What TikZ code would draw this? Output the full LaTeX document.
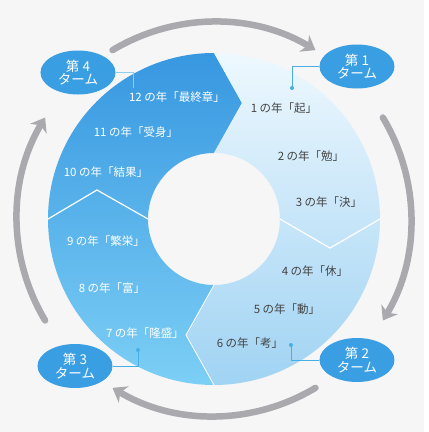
\documentclass[tikz,border=0pt]{standalone}
\usepackage{fontspec}
\setmainfont{Noto Sans CJK JP}
\usetikzlibrary{shapes.geometric}
\usetikzlibrary{arrows.meta}

\definecolor{bggray}{HTML}{F6F6F6}
\definecolor{arrowgray}{HTML}{A9A9AE}
\definecolor{turnblue}{HTML}{3A9EE3}
\definecolor{leaderblue}{HTML}{4AAEE6}
\definecolor{leaderpale}{HTML}{8CCFF3}
\definecolor{labelgray}{HTML}{444444}
\definecolor{darktop}{HTML}{3797E0}
\definecolor{darkmid}{HTML}{44B2EB}
\definecolor{darkbot}{HTML}{7CCFF5}
\definecolor{palettop}{HTML}{EEF8FE}
\definecolor{palemid}{HTML}{CCE8FA}
\definecolor{palebot}{HTML}{A0D3F3}

\begin{document}
\begin{tikzpicture}[x=1pt, y=1pt,
    turnarrow/.style={line width=6.5pt, draw=arrowgray, line cap=round,
        -{Stealth[length=13pt, width=19pt, inset=4pt]}},
    turn/.style={ellipse, fill=turnblue, text=white, minimum width=75pt,
        minimum height=44pt, inner sep=0pt, align=center,
        font=\fontsize{13.5}{13.5}\selectfont},
    leader/.style={draw=leaderblue, line width=0.8pt},
    darklabel/.style={text=labelgray, font=\fontsize{11.5}{12}\selectfont},
    lightlabel/.style={darklabel, text=white}]
    \useasboundingbox (-214,-213) rectangle (215,219);
    % Background
    \fill[bggray] (-214,-213) rectangle (210,219);
    \fill[white] (210,-213) rectangle (215,219);

    % Left half of the ring (turns 3 and 4)
    \shade[top color=darktop, middle color=darkmid, bottom color=darkbot]
        (90:166) arc[start angle=90, end angle=270, radius=166]
        -- (-28,-116) -- (270:66) arc[start angle=270, end angle=90, radius=66]
        -- (28,116) -- cycle;
    % Right half of the ring (turns 1 and 2)
    \shade[top color=palettop, middle color=palemid, bottom color=palebot]
        (90:166) arc[start angle=90, end angle=-90, radius=166]
        -- (-28,-116) -- (270:66) arc[start angle=-90, end angle=90, radius=66]
        -- (28,116) -- cycle;
    % White dividers
    \draw[white, line width=1.2pt] (-166,0) -- (-117,29) -- (-66,0);
    \draw[white, line width=1.2pt] (66,0) -- (116,-29) -- (166,0);
    \draw[white, line width=0.8pt] (0,-166) -- (-28,-116) -- (0,-66);

    % Gray arrows round the ring
    \foreach \a in {90,0,-90,-180}
        \draw[turnarrow] (\a+31:197) arc[start angle=\a+31, end angle=\a-31, radius=197];

    % Year labels
    \node[darklabel] (y1) at (70,111) {1 の年「起」};
    \node[darklabel] (y2) at (97,63) {2 の年「勉」};
    \node[darklabel] (y3) at (115,17) {3 の年「決」};
    \node[darklabel] (y4) at (101,-52) {4 の年「休」};
    \node[darklabel] (y5) at (73,-90) {5 の年「動」};
    \node[darklabel] (y6) at (36,-124) {6 の年「考」};
    \node[lightlabel] (y7) at (-69,-114) {7 の年「隆盛」};
    \node[lightlabel] (y8) at (-102,-69) {8 の年「富」};
    \node[lightlabel] (y9) at (-108,-22) {9 の年「繁栄」};
    \node[lightlabel] (y10) at (-108,47) {10 の年「結果」};
    \node[lightlabel] (y11) at (-78,87) {11 の年「受身」};
    \node[lightlabel] (y12) at (-37,122) {12 の年「最終章」};

    % Turn badges
    \node[turn] (t1) at (143,152.5) {第 1\\ターム};
    \node[turn] (t2) at (143,-141) {第 2\\ターム};
    \node[turn] (t3) at (-139,-147) {第 3\\ターム};
    \node[turn] (t4) at (-136,146.5) {第 4\\ターム};

    % Leaders
    \coordinate (d1) at (78,131);
    \coordinate (d2) at (77,-126);
    \coordinate (d3) at (-76,-131);
    \coordinate (d4) at (-81,131);
    \draw[leader] (t1.west) -| (d1);
    \draw[leader] (t2.west) -| (d2);
    \draw[leader] (t3.east) -| (d3);
    \draw[leader, draw=leaderpale] (t4.east) -| (d4);
    \fill[leaderblue] (d1) circle (2);
    \fill[leaderblue] (d2) circle (2);
    \fill[leaderblue] (d3) circle (2);
\end{tikzpicture}
\end{document}
